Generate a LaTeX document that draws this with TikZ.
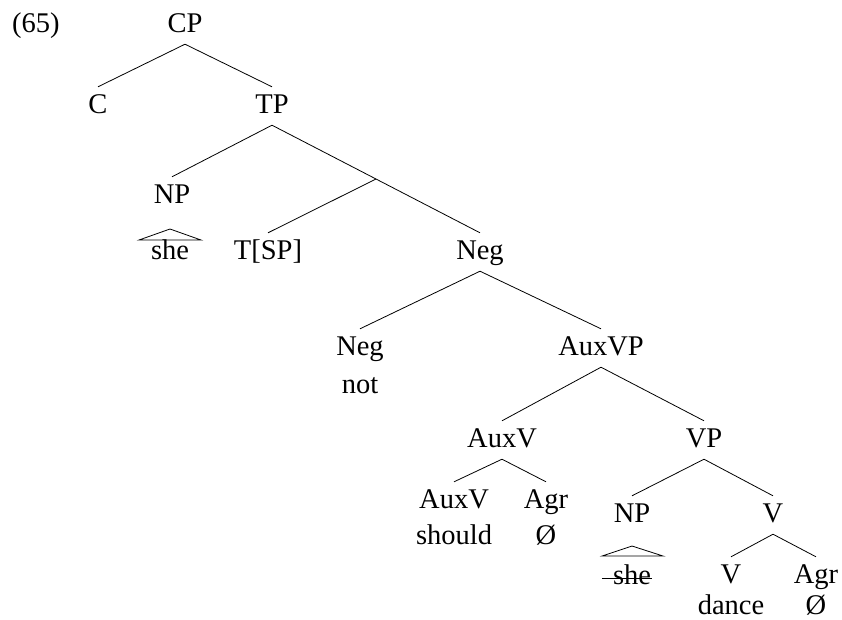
\documentclass[tikz,border=0pt]{standalone}
\usepackage{fontspec}
\setmainfont{Liberation Serif}
\usetikzlibrary{calc}
\begin{document}
\begin{tikzpicture}[x=1pt,y=-1pt,
  every node/.style={font=\fontsize{28.5}{30}\selectfont, inner sep=0pt},
  cat/.style={anchor=base, text height=26pt, text depth=12pt},
  word/.style={anchor=base},
  branch/.style={line width=0.8pt},
  roof/.style={line width=0.8pt, line join=miter}]
\useasboundingbox (0,0) rectangle (842,619);

% example number
\node[anchor=base west] (ex) at (12,32) {(65)};

% category labels
\node[cat] (cp)   at (185,32)  {CP};
\node[cat] (c)    at (98,113)  {C};
\node[cat] (tp)   at (272,113) {TP};
\node[cat] (np1)  at (172,203) {NP};
\node[cat] (tsp)  at (268,259) {T[SP]};
\node[cat] (neg)  at (480,259) {Neg};
\node[cat] (neg0) at (360,355) {Neg};
\node[cat] (auxvp) at (601,355) {AuxVP};
\node[cat] (auxv) at (502,447) {AuxV};
\node[cat] (vp)   at (704,447) {VP};
\node[cat] (auxv0) at (454,508) {AuxV};
\node[cat] (agr1) at (546,508) {Agr};
\node[cat] (np2)  at (632,522) {NP};
\node[cat] (v)    at (773,522) {V};
\node[cat] (v0)   at (731,583) {V};
\node[cat] (agr2) at (816,583) {Agr};

% terminal words
\node[word] (she1)   at (170,259) {she};
\node[word] (not)    at (360,393) {not};
\node[word] (should) at (454,544) {should};
\node[word] (null1)  at (546,544) {Ø};
\node[word] (she2)   at (632,584) {she};
\node[word] (dance)  at (731,614) {dance};
\node[word] (null2)  at (816,614) {Ø};

% unlabelled intermediate projection of T
\coordinate (tbar) at ($(tp.south)!0.5!(neg.north)$);

% branches
\draw[branch] (c.north) -- (cp.south) -- (tp.north);
\draw[branch] (np1.north) -- (tp.south) -- (tbar) -- (neg.north);
\draw[branch] (tbar) -- (tsp.north);
\draw[branch] (neg0.north) -- (neg.south) -- (auxvp.north);
\draw[branch] (auxv.north) -- (auxvp.south) -- (vp.north);
\draw[branch] (auxv0.north) -- (auxv.south) -- (agr1.north);
\draw[branch] (np2.north) -- (vp.south) -- (v.north);
\draw[branch] (v0.north) -- (v.south) -- (agr2.north);

% roofs over the pronoun
\draw[roof] ($(she1.base)+(0,-30)$) -- ($(she1.base)+(31,-19)$)
  -- ($(she1.base)+(-31,-19)$) -- cycle;
\draw[roof] ($(she2.base)+(0,-38)$) -- ($(she2.base)+(31,-28)$)
  -- ($(she2.base)+(-30,-28)$) -- cycle;

% struck-out lower copy of the subject
\draw[line width=0.8pt] ($(she2.base west)+(-11,-6)$) -- ($(she2.base east)+(1,-6)$);
\end{tikzpicture}
\end{document}
